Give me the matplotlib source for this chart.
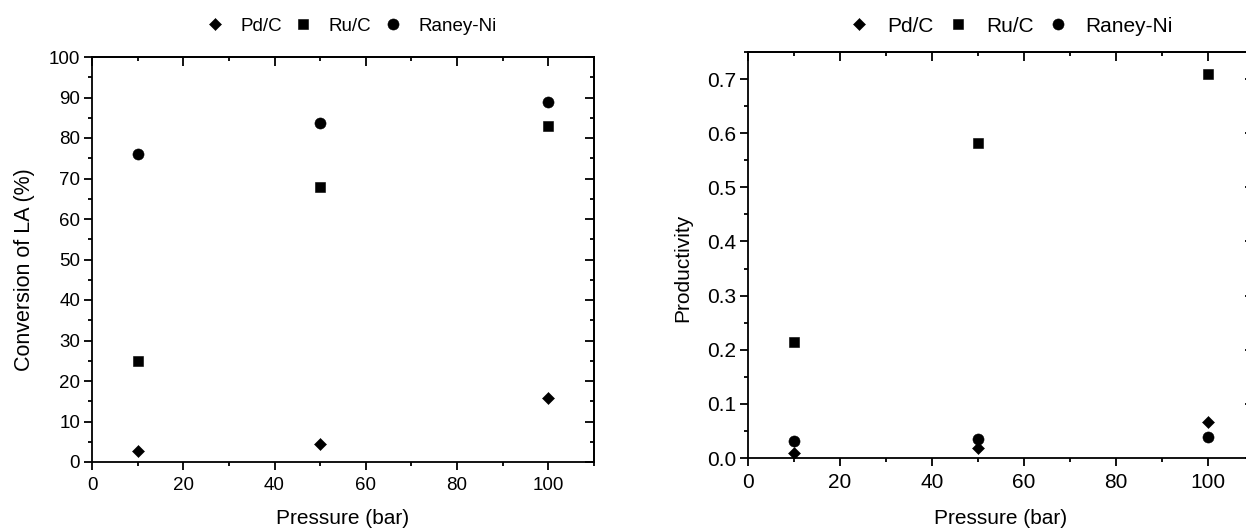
import matplotlib
matplotlib.use('Agg')
import matplotlib.pyplot as plt
from matplotlib.ticker import MultipleLocator

plt.rcParams['font.family'] = ['Liberation Sans', 'DejaVu Sans']

pressure = [10, 50, 100]
catalysts = ['Pd/C', 'Ru/C', 'Raney-Ni']
markers = {'Pd/C': 'D', 'Ru/C': 's', 'Raney-Ni': 'o'}
msizes = {'Pd/C': 6.6, 'Ru/C': 7.2, 'Raney-Ni': 8.0}

# conversion of levulinic acid (%)
conv_pd = [2.7, 4.4, 15.8]
conv_ru = [25, 68, 83]
conv_ni = [76, 83.8, 89]

# productivity
prod_pd = [0.010, 0.018, 0.067]
prod_ru = [0.215, 0.582, 0.710]
prod_ni = [0.032, 0.035, 0.038]

W, H = 1246, 528
fig = plt.figure(figsize=(W / 100, H / 100), dpi=100)
ax1 = fig.add_axes([92 / W, (H - 462) / H, 502 / W, 405 / H])
ax2 = fig.add_axes([748 / W, (H - 458) / H, 506 / W, 406 / H])


def style_axes(ax, ymajor, yminor, fs):
    ax.xaxis.set_major_locator(MultipleLocator(20))
    ax.xaxis.set_minor_locator(MultipleLocator(10))
    ax.yaxis.set_major_locator(MultipleLocator(ymajor))
    ax.yaxis.set_minor_locator(MultipleLocator(yminor))
    for sp in ax.spines.values():
        sp.set_linewidth(1.3)
    ax.tick_params(which='both', direction='out', width=1.3, labelsize=fs,
                   top=False, right=False)
    ax.tick_params(which='major', length=6)
    ax.tick_params(which='minor', length=3)
    ax.tick_params(axis='x', pad=5)
    ax.tick_params(axis='y', pad=2.5)
    # inward ticks on the top and right frame
    top = ax.secondary_xaxis('top')
    top.xaxis.set_major_locator(MultipleLocator(20))
    top.xaxis.set_minor_locator(MultipleLocator(10))
    right = ax.secondary_yaxis('right')
    right.yaxis.set_major_locator(MultipleLocator(ymajor))
    right.yaxis.set_minor_locator(MultipleLocator(yminor))
    for sec in (top, right):
        for sp in sec.spines.values():
            sp.set_linewidth(1.3)
        sec.tick_params(which='both', direction='in', width=1.3,
                        labeltop=False, labelright=False)
        sec.tick_params(which='major', length=6.5)
        sec.tick_params(which='minor', length=3)


def draw(ax, series, fs, legend_x):
    handles = []
    for name, vals in zip(catalysts, series):
        h, = ax.plot(pressure, vals, linestyle='none', marker=markers[name],
                     ms=msizes[name], color='black', mew=0.4, label=name)
        handles.append(h)
    fig.legend(handles=handles, loc='center', bbox_to_anchor=(legend_x, 1 - 26 / H),
               ncol=3, frameon=False, fontsize=fs, handlelength=1.0,
               handletextpad=0.85, columnspacing=0.65, borderpad=0, borderaxespad=0)


style_axes(ax1, 10, 5, 13.5)
draw(ax1, [conv_pd, conv_ru, conv_ni], 13.5, 351 / W)
ax1.set_xlim(0, 110)
ax1.set_ylim(0, 100)
ax1.set_xlabel('Pressure (bar)', fontsize=15)
ax1.set_ylabel('Conversion of LA (%)', fontsize=15.5)
ax1.xaxis.set_label_coords(0.5, -0.1407)
ax1.yaxis.set_label_coords(-0.1335, 0.474)

style_axes(ax2, 0.1, 0.05, 15)
draw(ax2, [prod_pd, prod_ru, prod_ni], 15, 1011 / W)
ax2.set_xlim(0, 110)
ax2.set_ylim(0, 0.75)
ax2.set_xlabel('Pressure (bar)', fontsize=15)
ax2.set_ylabel('Productivity', fontsize=15)
ax2.xaxis.set_label_coords(0.5, -0.150)
ax2.yaxis.set_label_coords(-0.1285, 0.468)

for ax in (ax1, ax2):
    ax.xaxis.label.set_va('center')
    ax.yaxis.label.set_va('center')

fig.savefig('out.png', dpi=100)
